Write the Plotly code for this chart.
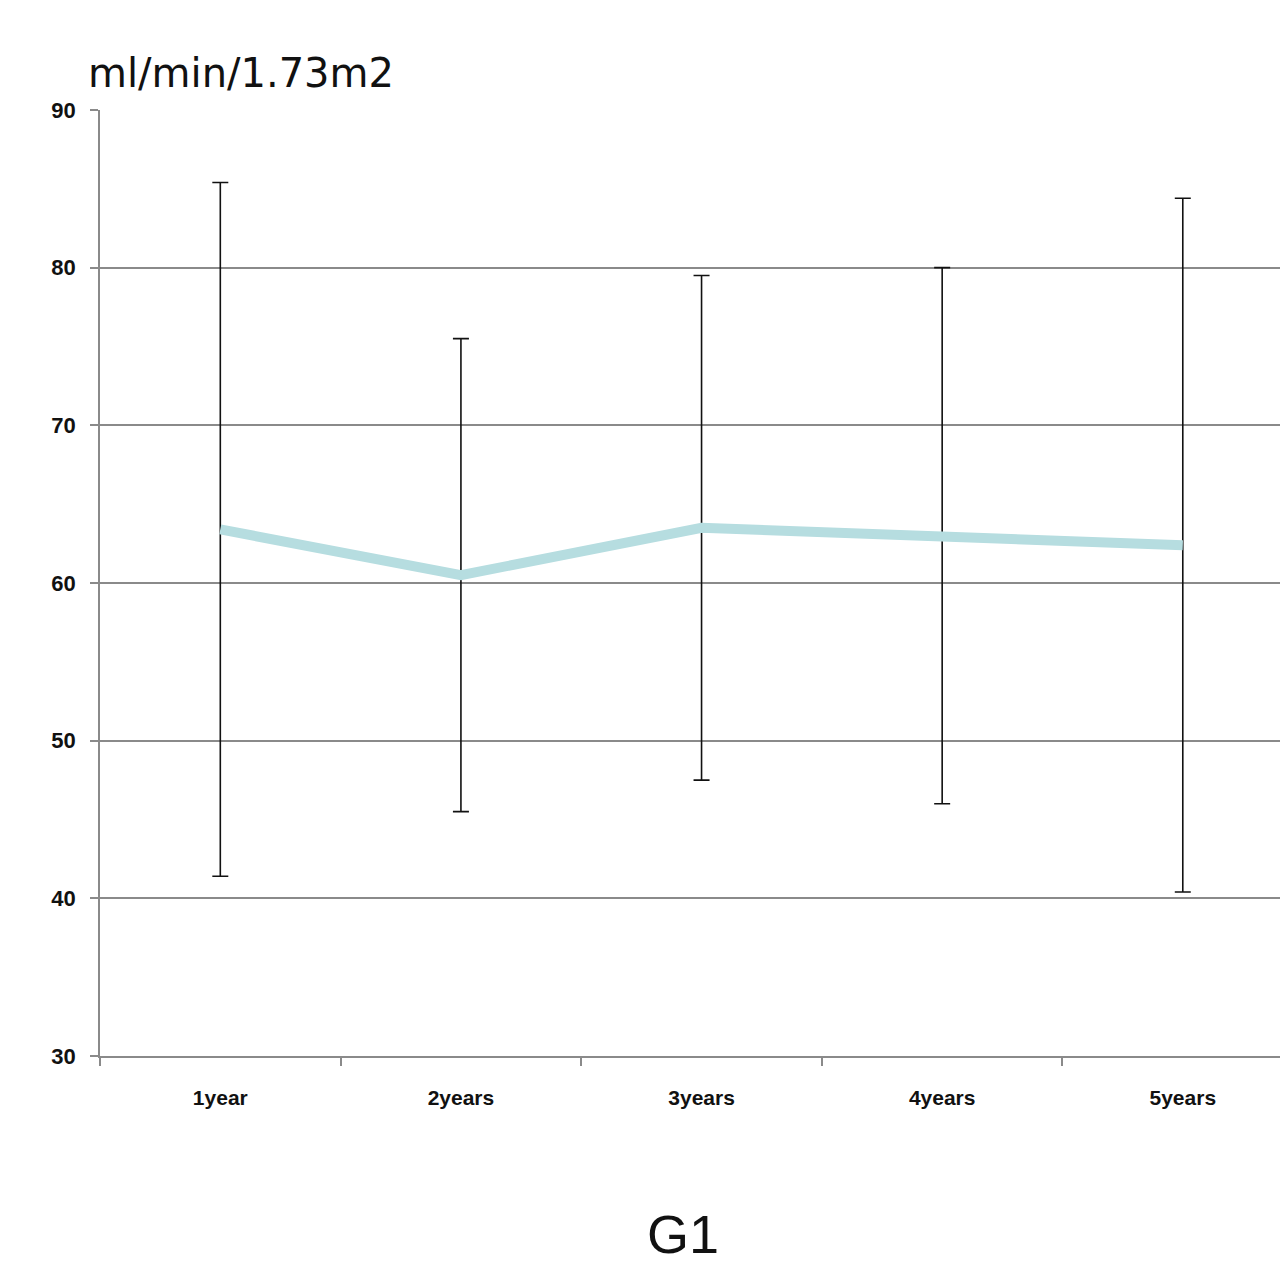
import plotly.graph_objects as go

# eGFR follow-up, group G1
categories = ["1year", "2years", "3years", "4years", "5years"]
mean_egfr = [63.4, 60.5, 63.5, 63.0, 62.4]
sd_egfr = [22.0, 15.0, 16.0, 17.0, 22.0]

tick_font = dict(size=21, family="Liberation Sans, Arial, sans-serif",
                 weight="bold", color="#111111")

fig = go.Figure()
fig.add_trace(go.Scatter(
    x=categories,
    y=mean_egfr,
    mode="lines",
    line=dict(color="#b6dde0", width=10),
    error_y=dict(type="data", array=sd_egfr, visible=True,
                 color="#111111", thickness=1.6, width=8),
    showlegend=False,
))

fig.update_layout(
    width=1280, height=1269,
    margin=dict(l=100, r=0, t=110, b=213),
    paper_bgcolor="white", plot_bgcolor="white",
    font=dict(family="Liberation Sans, Arial, sans-serif", color="#111111"),
    xaxis=dict(
        type="category",
        range=[-0.5, 4.404],
        tickson="boundaries",
        ticks="outside", ticklen=8, tickwidth=1.5, tickcolor="#8a8a8a",
        showgrid=False,
        showline=True, linecolor="#8a8a8a", linewidth=1.5,
        tickfont=tick_font,
        ticklabelstandoff=22,
        fixedrange=True,
    ),
    yaxis=dict(
        range=[30, 90],
        tickvals=[30, 40, 50, 60, 70, 80, 90],
        ticks="outside", ticklen=8, tickwidth=1.5, tickcolor="#8a8a8a",
        showgrid=True, gridcolor="#8a8a8a", gridwidth=1.5,
        showline=True, linecolor="#8a8a8a", linewidth=1.5,
        zeroline=False,
        tickfont=dict(size=22, family="Liberation Sans, Arial, sans-serif",
                      weight="bold", color="#111111"),
        ticklabelstandoff=10,
        fixedrange=True,
    ),
    annotations=[
        dict(text="ml/min/1.73m2", xref="paper", yref="paper",
             x=-0.012, y=1.0, xanchor="left", yanchor="bottom", yshift=12,
             showarrow=False,
             font=dict(size=40, family="DejaVu Sans, sans-serif", color="#111111")),
        dict(text="G1", xref="paper", yref="paper",
             x=0.494, y=0, xanchor="center", yanchor="middle", yshift=-178,
             showarrow=False, font=dict(size=54, color="#111111")),
    ],
)

fig.write_html("out.html")
